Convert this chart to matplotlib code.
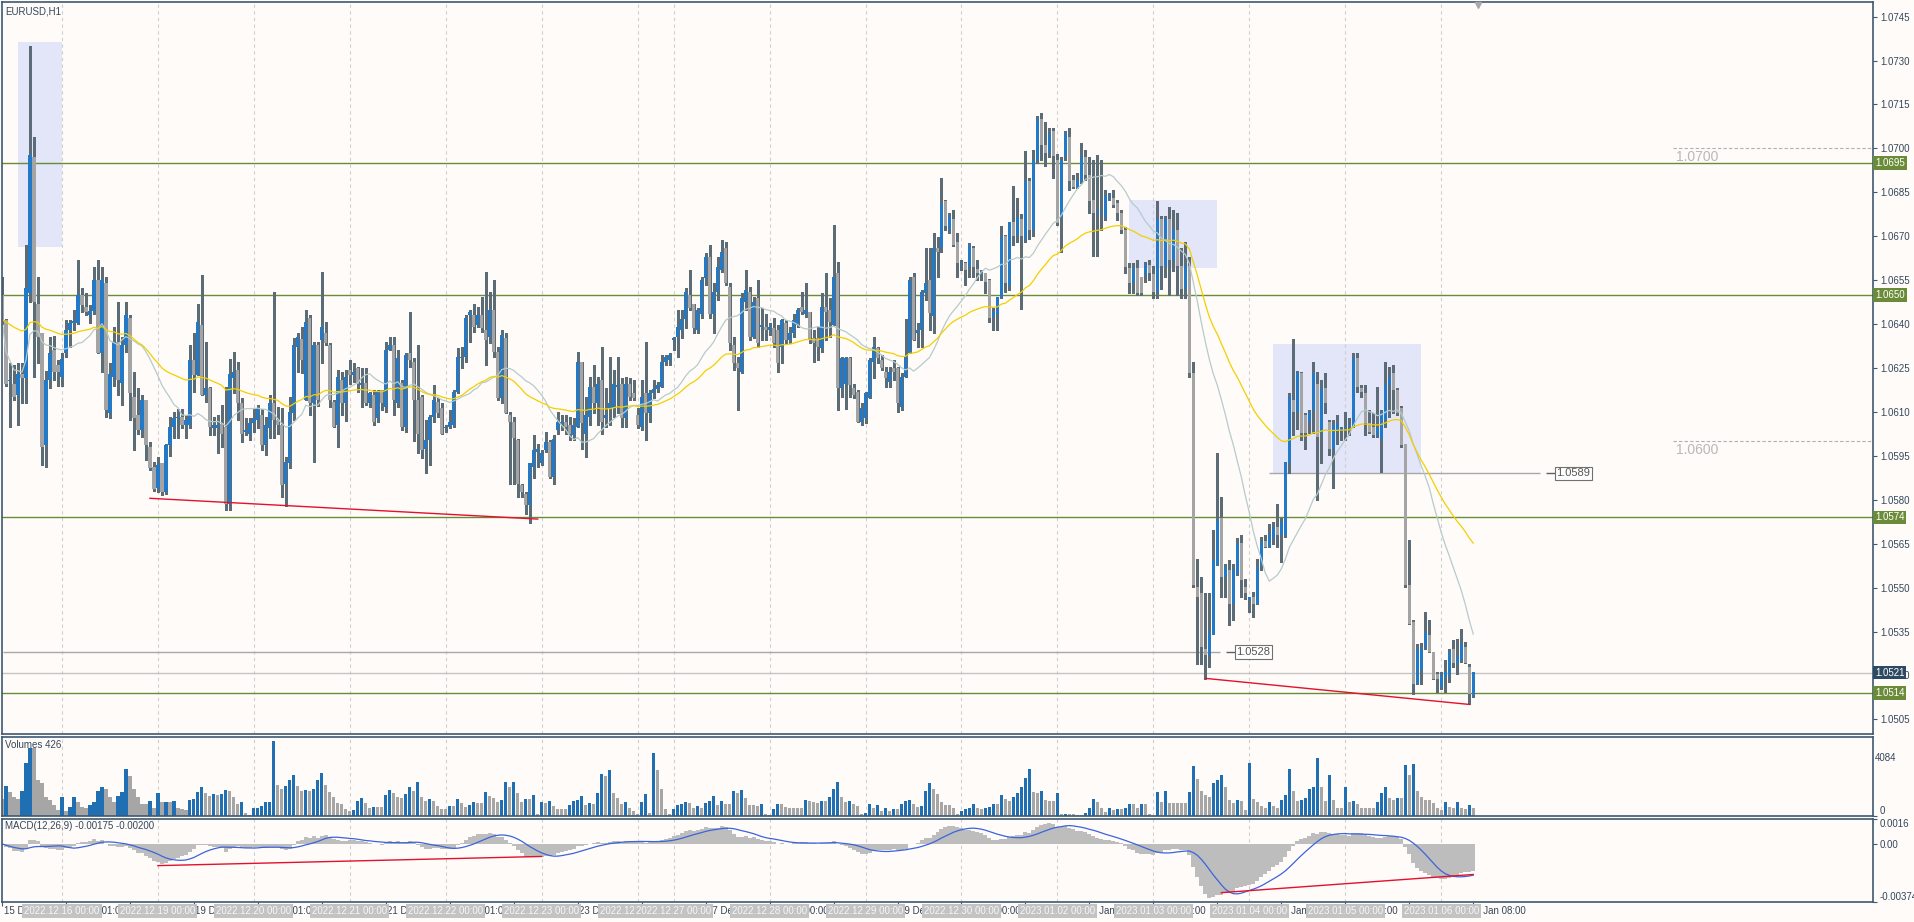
import numpy as np
import pandas as pd
import matplotlib
matplotlib.use('Agg')
import matplotlib.pyplot as plt
from matplotlib.patches import Rectangle
from matplotlib.transforms import blended_transform_factory as blend

# ---- data: EURUSD H1, prices in pips above 1.0500 ----
BASE = 1.05
opens = [150, 141.4, 120.5, 119.7, 115.7, 123, 121.5, 150.5, 197.2, 147,
         136.8, 98.7, 120.9, 131, 126, 122, 130, 138, 140.3, 140.5,
         149.9, 146, 143, 144.6, 155.1, 130, 154, 109.5, 122, 134,
         120, 132.8, 142, 115.2, 108.9, 103.8, 114.1, 98.1, 91.3, 84,
         92.4, 82.7, 98.7, 104.9, 107.8, 108.4, 105.5, 105.5, 127.7, 122.5,
         139.7, 115.7, 118, 104.4, 104.4, 106, 105, 78.7, 121.5, 124.3,
         112.9, 103.2, 102.6, 106.1, 107.2, 108.9, 98.7, 104.4, 113, 107.2,
         105.5, 85.5, 92.4, 109.5, 132.3, 134.9, 114, 142, 113, 133,
         134.6, 136.8, 132.8, 113.5, 105.5, 120.9, 112.9, 124.3, 122.6, 124.9,
         119.2, 119.8, 112.9, 115.7, 107.8, 117.5, 111.8, 131.1, 132.8, 112.9,
         120, 105, 130, 127.2, 114.1, 115.2, 97.5, 100.3, 108.4, 113.5,
         111.2, 104.4, 104.9, 105.5, 116.9, 128.3, 128.9, 143.1, 143.1, 139.7,
         143.1, 138, 135.7, 144.8, 130.6, 114.6, 135.1, 108.9, 106.6, 100.3,
         85, 82.1, 78.2, 91.3, 96.4, 92.4, 97, 99.8, 87.9, 103.8,
         106, 106.6, 105.5, 102, 105, 127.2, 102.6, 108.4, 118.6, 112.9,
         120.9, 108, 111.2, 111.2, 118.6, 119.7, 107.8, 119.7, 116.3, 108.9,
         105, 116.3, 109.5, 116.3, 117.9, 118.6, 127.2, 127.7, 134.6, 135.7,
         137.9, 141.9, 149.9, 147, 138, 143.6, 155.6, 163, 143.6, 151.1,
         158.5, 165.9, 152.8, 132.8, 126.6, 123.7, 147.6, 151.1, 135.7, 148.8,
         139.1, 139.1, 138, 138.5, 138, 132.3, 140.2, 134.6, 136.8, 139.7,
         145.9, 143.6, 144.2, 135.1, 135.1, 131.7, 145.9, 144.8, 139.7, 157.3,
         118, 119.7, 128.3, 118, 116.9, 106.6, 107.8, 114.6, 127.2, 131.7,
         127.7, 123.7, 120.3, 124.9, 124.9, 111.8, 122, 130, 156.2, 136.8,
         138, 150.5, 155, 142.8, 165.9, 165.9, 182.1, 172.4, 176, 168.1,
         160, 160.8, 159.6, 165.9, 158.7, 157.3, 157.4, 155, 142.5, 143.5,
         149.4, 170.1, 153, 175, 170, 176, 169, 189, 172, 196,
         210, 201, 198.5, 206, 196, 176.7, 197.2, 204, 189.3, 186.7,
         188.7, 197.2, 191, 182.4, 178.7, 177.6, 176.7, 183, 183, 181.3,
         177.9, 172.2, 159, 153.9, 159, 156.2, 156.8, 160.2, 157, 151,
         176, 160, 176, 162, 172, 160, 152, 160, 123.2, 50.3,
         48, 29.2, 27, 34, 57.6, 73.6, 53.7, 56, 44.5, 54.8,
         65.1, 50.3, 45.9, 46.8, 44.5, 57.6, 66, 64, 66.8, 70.7,
         67.9, 67.9, 92.4, 114, 110, 123.3, 108.9, 106.6, 110.6, 119.7,
         102.7, 118, 106.6, 97.5, 104, 103.8, 104.4, 104.9, 105, 128.3,
         118, 116.3, 106.1, 105, 102.1, 100.9, 107.2, 119.2, 123.2, 117.5,
         111.2, 99.2, 50.8, 38.3, 17.2, 22, 29.7, 33.7, 28, 20.6,
         16.1, 19.5, 20, 29.2, 24.1, 25.2, 29.7, 22.9, 13.2]
highs = [156, 141.6, 126.6, 126, 126.6, 126.6, 167, 235, 204, 156,
         137, 124, 135.7, 136, 127.7, 130, 141.4, 141.4, 144.8, 161.9,
         152.2, 150.5, 146.5, 159.6, 161.9, 159.6, 156, 126.6, 139, 147.6,
         135.7, 147.6, 143, 123.7, 118, 115.7, 114.1, 99.8, 93, 94.6,
         92.4, 99.2, 108.4, 110, 111, 111, 108.9, 132.8, 136.8, 147,
         156.8, 134, 118.6, 108.4, 109, 112.4, 118.6, 128, 130.6, 127.2,
         114.6, 107.8, 107.8, 111.5, 112.4, 111, 108.4, 115.7, 151, 111.8,
         111.2, 94.6, 115.2, 135.1, 136.8, 139.1, 144.8, 143.1, 134, 134,
         157.9, 140.8, 133.4, 114.1, 124.3, 123.7, 124.3, 127.7, 126.6, 125.4,
         124.9, 124.9, 116.9, 117.5, 117.5, 117.5, 134, 135.7, 135.7, 131.1,
         121, 130, 144.2, 128.3, 132.8, 115.7, 107.2, 108.9, 119.2, 114.6,
         112.9, 105.5, 110.6, 117.5, 131.7, 132.3, 143.1, 144.8, 147, 145.9,
         149.4, 157.9, 151.1, 155.1, 132.3, 138, 136.8, 110, 108.4, 100.9,
         85.5, 82.7, 92.4, 102, 99.2, 97, 103.2, 100.4, 102.1, 110,
         108.9, 108.9, 108.4, 107.8, 130.6, 127.2, 115.2, 122, 126, 122,
         132.3, 118, 128.9, 124.3, 128.9, 121.5, 122, 121.5, 120.9, 111.2,
         120.9, 134, 117.5, 120.9, 120.3, 129.4, 129.4, 130, 135.7, 144.8,
         144.8, 152.2, 158.5, 147, 145.4, 156.2, 164.2, 167, 153.9, 163,
         168.7, 168.1, 153.9, 135.7, 128.9, 150.5, 158.5, 152.8, 149.4, 155,
         145.4, 143.6, 140.2, 142, 139.7, 141.9, 141.4, 139.1, 143.6, 145.4,
         151.1, 153.9, 144.2, 138, 139.1, 150.5, 157.3, 148.8, 173.8, 161.3,
         128.9, 128.9, 128.9, 119.7, 117.5, 112.9, 116.9, 128.3, 135.7, 132.3,
         129.4, 125.4, 125.4, 127.7, 125.4, 123.2, 141.9, 156.2, 157.3, 140.2,
         151.7, 165.9, 165.9, 171, 169.9, 189.8, 182.4, 177.9, 179, 171,
         162, 161.3, 167.6, 166.5, 161.9, 158.5, 157.4, 155.3, 145.4, 149.4,
         173.5, 170.4, 175, 187, 183, 177.5, 199, 190, 199.5, 211,
         212, 209, 207, 207, 198, 197.2, 205.8, 206.9, 191, 191.5,
         201.8, 199.5, 197.2, 196.1, 197.8, 196.1, 185.8, 184.7, 185.8, 182.4,
         179, 173.3, 160.8, 160.8, 161.9, 156.2, 161.3, 162, 160, 182,
         177, 177, 180, 179, 178, 166, 168, 163, 127.1, 59.9,
         53.7, 48, 48, 69.6, 95.8, 81, 58.2, 59.3, 58.2, 66.8,
         67.9, 53.1, 46.8, 48.6, 59.9, 67.3, 67.9, 71.8, 72.4, 78.7,
         73.6, 93, 116.3, 135, 124, 123.5, 109.5, 110.6, 127.1, 123.7,
         120.9, 123.2, 107.2, 107.2, 109, 104.9, 110, 108, 130, 130,
         119.2, 119.2, 110.6, 109.5, 118.6, 110.6, 127.1, 125.4, 126, 118,
         112, 99.2, 66.2, 38.8, 30.9, 31, 41.7, 38.8, 28, 21.2,
         21.2, 25.2, 29.2, 32, 32.6, 36, 31.5, 24, 21.2]
lows = [140, 118.8, 105, 114, 105.5, 113, 113, 147.6, 122, 126.6,
        91.8, 91.3, 118, 120.9, 119, 119, 128.8, 132.3, 138, 140,
        144.2, 143, 140.3, 143.4, 130, 123.7, 108.4, 107.8, 119, 115.7,
        112.3, 130.6, 107.2, 97, 102.6, 101.5, 93.5, 90, 83, 82.7,
        81.6, 82, 95, 101, 101, 104.4, 101, 104.4, 116.9, 122.5,
        115.7, 113.5, 102, 102, 96, 98.1, 76.4, 76.4, 116.3, 107.2,
        99.8, 102, 100.3, 103, 104.4, 97, 95.2, 101, 101, 102.6,
        81, 78, 90.7, 107.2, 123.7, 123.2, 114, 108.9, 93, 112,
        126.6, 132.8, 111.8, 105, 98.1, 108.9, 107, 119.7, 120.3, 116.9,
        111.8, 112.4, 111.8, 105.5, 106.6, 110.6, 110, 131.1, 108.9, 111.8,
        103.8, 103.2, 125.4, 100, 95.8, 94.1, 89, 91.8, 106.6, 108.4,
        102.6, 103.2, 104.4, 104.9, 116.3, 124.9, 127.2, 134, 137.4, 139.1,
        137.4, 126, 133.4, 128.9, 114.1, 112.9, 109.5, 85.5, 85.5, 81,
        81, 75.3, 71.9, 87.3, 91.3, 91.8, 96.4, 87.3, 85.5, 102.6,
        103.8, 102.6, 100.4, 100.4, 105, 97.5, 94.7, 105.5, 109.5, 105.5,
        102.6, 105, 105.5, 108.4, 109.5, 104.9, 104.9, 114, 114, 104.4,
        103.8, 100.4, 106.6, 114.6, 116.9, 118.6, 126, 126, 131.1, 128.9,
        135.1, 138.5, 144.8, 136.8, 136.8, 142, 153.4, 142, 136.8, 148.2,
        157.9, 153.4, 131.1, 124.3, 110.6, 123.2, 144.8, 134.6, 135.1, 132.3,
        134.6, 134.6, 136.3, 132.3, 123.7, 126.6, 133.4, 133.4, 135.7, 139.1,
        143.6, 142.5, 133.4, 127.2, 127.7, 130.6, 134.6, 135.7, 139.7, 110.6,
        115.2, 111, 115.2, 114.6, 106.6, 105.5, 106.1, 114.6, 121.5, 126.6,
        124.3, 118.6, 118.6, 120.9, 110, 110.6, 122, 130, 134.6, 132.3,
        132.3, 148.2, 138, 136.8, 156.2, 164.7, 172.2, 171, 166.5, 156.2,
        158.5, 153.4, 156.2, 156.2, 155, 155, 150.5, 140.8, 138, 138,
        148.8, 150.8, 151.7, 167, 168, 145, 168, 169, 170, 195,
        196, 194, 197, 190, 174, 164.7, 196.1, 185.8, 186.4, 186.4,
        188.1, 189.3, 177.9, 163.1, 163.1, 172.2, 175.6, 182.4, 180.1, 175.6,
        171, 157.4, 150.5, 150.5, 150, 150, 154.5, 155, 149, 149,
        152, 156, 150, 158, 150, 149, 149, 122, 50.3, 24,
        24, 18.9, 23, 34, 57.6, 46.8, 46.8, 37.1, 38.8, 54.3,
        46.8, 46.2, 41.7, 40, 44.5, 56, 63.9, 63.9, 65, 63.9,
        58.8, 67.3, 89, 102, 104, 100.4, 97.5, 102.7, 102.7, 79.9,
        92.4, 109.5, 95.2, 83.9, 99.2, 100.4, 100.4, 102, 105, 116.9,
        115.2, 102.1, 102.7, 101.5, 101.5, 89.6, 105, 108.4, 109.5, 108.9,
        98, 50.3, 37.7, 13.8, 17, 17.2, 29.2, 28, 18.9, 14.4,
        15.5, 14.4, 17.8, 23, 20.6, 24.6, 24.1, 10.3, 12.6]
closes = [141.5, 119.7, 121, 115.2, 123, 121.5, 152.2, 197.8, 147.6, 135.7,
          98.1, 120.9, 130, 123.7, 123.7, 128, 138, 140.3, 141, 149.9,
          146.5, 144.2, 144.6, 155.1, 130, 155.1, 110.6, 123, 134, 120.9,
          132.8, 143, 116.3, 107.8, 103.8, 114.1, 98.7, 90.7, 83.8, 92,
          82.7, 98.7, 104.9, 107.8, 108.4, 105.5, 107.2, 127.7, 122.5, 140.8,
          115.7, 118, 104.9, 105.5, 105.5, 102.6, 78.7, 123, 123.7, 112.9,
          102.6, 103.8, 106.1, 107.8, 111.2, 98.7, 105.5, 113, 107.2, 105.5,
          85, 93, 110, 132.8, 135.7, 127.7, 140.8, 112.9, 133, 114,
          139.1, 133.4, 114.1, 105, 122, 112.9, 122, 122.6, 123.7, 119.7,
          119.8, 112.9, 116.3, 106.6, 116.9, 112.9, 131.1, 132.8, 114.1, 128.3,
          105, 129.4, 127.7, 114.1, 102.6, 97, 100.3, 108.4, 114.1, 109.5,
          102.6, 104.9, 106.6, 116.9, 128.9, 128.9, 142, 144.2, 139.1, 143.1,
          138.5, 134.6, 144.8, 130.6, 114.6, 136.3, 109.5, 106.6, 101, 85.5,
          82.7, 78.2, 92.4, 97, 97.5, 95.8, 99.8, 87.9, 100.9, 106.6,
          106.6, 104.9, 102.6, 105.5, 127.2, 106.1, 109, 118.6, 112.9, 119.7,
          106.6, 109, 113, 119.7, 119.2, 107.8, 119.7, 115.2, 114.6, 105.5,
          115.2, 109.5, 116.3, 117.9, 119.2, 127.2, 128.9, 129.4, 135.1, 139.1,
          141.9, 151.1, 145.4, 138.5, 144.8, 155, 163, 143.6, 151.1, 159.6,
          164.7, 153.9, 133.4, 126.6, 124.9, 148.8, 151.6, 135.7, 147.6, 133.4,
          139.7, 138, 139.1, 133.4, 126.6, 141.4, 134.6, 136.8, 141.4, 144.8,
          144.2, 144.8, 134.6, 133.4, 132.3, 145.9, 144.2, 140.8, 156.2, 118,
          128.3, 128.3, 119.2, 115.7, 106.6, 111.2, 116.3, 127.7, 132.3, 128.3,
          124.9, 121.5, 123.7, 123.7, 112.9, 122, 128.9, 155, 134.6, 137.9,
          151.1, 153.9, 143.7, 165.9, 164.7, 181, 173.5, 176.9, 166.9, 160.8,
          160.2, 158.5, 167, 159.6, 157.6, 158.1, 154.5, 142, 144.2, 149.4,
          169.9, 154, 174.7, 170, 176.5, 170, 189, 172, 196, 210,
          201, 198.5, 205, 197.5, 174.5, 196.1, 205.2, 188.7, 186.7, 189.3,
          197.2, 191, 181.9, 177.9, 179.2, 178.2, 183.6, 184.1, 180.7, 177.9,
          172.2, 159.6, 153.9, 159, 150.5, 150.5, 160.2, 157.3, 151, 176,
          160, 176, 162, 172, 160, 152, 160, 123.2, 50.8, 46.8,
          29.7, 26.9, 35, 59.3, 73, 53.7, 57, 44.5, 56, 65.1,
          52.5, 48, 46.8, 44.5, 57.1, 65.6, 63.9, 67.9, 70.7, 67.9,
          72.4, 93, 115.2, 110, 123.3, 102.7, 102.7, 110, 123.2, 101.5,
          118, 112.9, 97.5, 105.5, 106.1, 104.4, 104.9, 105.5, 128.3, 118.6,
          116.9, 106.1, 103.2, 102.1, 104.4, 110, 119.2, 122, 117.5, 109.5,
          98.7, 50.8, 37.7, 17.2, 29.2, 29.2, 34.9, 28, 18.9, 18.9,
          20, 21.2, 28, 24.1, 26.3, 30.9, 24.1, 13.8, 21.2]
volumes = [920, 1656, 1325, 1012, 920, 1343, 2907, 3717, 3700, 1969,
           1803, 1049, 865, 607, 313, 1012, 276, 497, 1012, 736,
           497, 423, 607, 736, 1380, 1601, 1472, 1012, 773, 1104,
           1288, 2539, 2153, 1472, 1049, 644, 644, 828, 423, 1233,
           736, 773, 736, 791, 423, 368, 313, 865, 920, 1288,
           1601, 1233, 1104, 1196, 1159, 1180, 1435, 1380, 1049, 644,
           736, 184, 55, 423, 430, 552, 736, 740, 4084, 1711,
           1472, 1656, 1969, 2208, 1650, 1380, 1417, 1370, 1472, 1969,
           2337, 1711, 1288, 1049, 681, 675, 368, 276, 313, 791,
           975, 681, 423, 497, 490, 485, 1159, 1417, 1233, 1012,
           1005, 1196, 1601, 1380, 1840, 1012, 828, 920, 820, 552,
           368, 360, 552, 545, 920, 681, 497, 607, 736, 730,
           681, 1288, 1104, 975, 736, 865, 1840, 1564, 1845, 1233,
           736, 920, 915, 1159, 129, 736, 681, 828, 552, 368,
           365, 360, 607, 828, 865, 1104, 607, 681, 644, 1233,
           2263, 2153, 2521, 1233, 975, 644, 773, 423, 276, 129,
           773, 1196, 184, 3404, 2521, 1472, 368, 129, 368, 607,
           644, 736, 730, 423, 552, 423, 681, 791, 1104, 607,
           791, 644, 640, 1380, 1233, 1417, 975, 607, 600, 552,
           644, 92, 37, 368, 644, 640, 497, 423, 420, 415,
           410, 865, 828, 736, 730, 828, 791, 1012, 1472, 1877,
           1012, 736, 828, 644, 552, 92, 184, 644, 423, 607,
           276, 423, 270, 368, 365, 644, 828, 865, 644, 497,
           552, 1343, 1785, 1472, 1196, 736, 607, 600, 423, 129,
           276, 368, 423, 644, 420, 368, 415, 497, 644, 640,
           1159, 920, 828, 1049, 1233, 1564, 2061, 2576, 1325, 1233,
           1380, 865, 828, 791, 1233, 92, 129, 90, 88, 55,
           52, 184, 423, 920, 736, 423, 239, 420, 313, 368,
           365, 423, 644, 640, 423, 644, 640, 129, 20, 1325,
           736, 1343, 730, 725, 720, 715, 710, 1288, 2723, 1987,
           1380, 1159, 1049, 1785, 1969, 2208, 1601, 865, 681, 860,
           828, 313, 2889, 920, 736, 552, 423, 736, 545, 420,
           865, 1159, 2576, 1380, 828, 865, 975, 1472, 1564, 3183,
           1560, 828, 2208, 883, 423, 420, 1601, 736, 791, 644,
           423, 420, 415, 410, 736, 1233, 1601, 975, 865, 970,
           965, 2760, 2208, 2815, 1343, 1012, 865, 860, 681, 423,
           313, 736, 497, 423, 736, 420, 368, 607, 426]

# trading days shown: date, first hour, number of H1 bars
day_dates = ['2022-12-15', '2022-12-16', '2022-12-19', '2022-12-20', '2022-12-21',
             '2022-12-22', '2022-12-23', '2022-12-26', '2022-12-27', '2022-12-28',
             '2022-12-29', '2022-12-30', '2023-01-02', '2023-01-03', '2023-01-04',
             '2023-01-05', '2023-01-06']
day_first_hour = [9, 0, 0, 0, 0, 0, 0, 15, 0, 0, 0, 0, 0, 0, 0, 0, 0]
day_bars = [15, 24, 24, 24, 24, 24, 24, 9, 24, 24, 24, 24, 24, 24, 24, 24, 9]

price_ticks = ['1.0505', '1.0520', '1.0535', '1.0550', '1.0565', '1.0580', '1.0595',
               '1.0610', '1.0625', '1.0640', '1.0655', '1.0670', '1.0685', '1.0700',
               '1.0715', '1.0730', '1.0745']
green_levels = [1.0695, 1.0650, 1.0574, 1.0514]
round_levels = [1.0700, 1.0600, 1.0500]
last_price = 1.0521
# (first bar, last bar, top, bottom)
zones = [(4, 15, 1.07364, 1.06663), (282, 304, 1.06824, 1.06591), (318, 355, 1.06332, 1.05891)]
# price label objects: (price, line start bar, line end bar)
price_marks = [(1.0528, 0.25, 304.75), (1.0589, 317, 384.75)]
price_trend = [((37, 1.05805), (134, 1.05734)), ((301, 1.05190), (367, 1.05101))]
macd_trend = [((39, -0.00140), (135, -0.00081)), ((305, -0.00314), (368, -0.00197))]
vol_max_label = '4084'
macd_scale = [0.0016, 0.0, -0.00374]

# ---- style ----
W, H = 1915, 922
BG = '#fffbf9'
FRAME = '#3d5872'
TXT = '#33475b'
BLUE = '#2279c8'
GREY = '#a4a4a4'
WICK = '#5c6c76'
GREEN = '#6a8c38'
SEP = '#cfcfcf'
RED = '#e3102e'
ROUND_START = 418

plt.rcParams['font.family'] = ['Liberation Sans', 'DejaVu Sans']
plt.rcParams['font.size'] = 7


def box(x0, y0, x1, y1):
    return [x0 / W, 1 - y1 / H, (x1 - x0) / W, (y1 - y0) / H]


o = BASE + np.array(opens) / 1e4
h = BASE + np.array(highs) / 1e4
l = BASE + np.array(lows) / 1e4
c = BASE + np.array(closes) / 1e4
vol = np.array(volumes)
n = len(c)
x = np.arange(n)

stamps = []
for d, h0, cnt in zip(day_dates, day_first_hour, day_bars):
    t0 = pd.Timestamp(d) + pd.Timedelta(hours=h0)
    stamps += [t0 + pd.Timedelta(hours=k) for k in range(cnt)]
day_start = np.cumsum([0] + day_bars[:-1])[1:]

fig = plt.figure(figsize=(W / 100, H / 100), dpi=100, facecolor=BG)
ax = fig.add_axes(box(2, 2, 1873, 734), facecolor=BG)
axv = fig.add_axes(box(2, 737, 1873, 816), facecolor=BG, sharex=ax)
axm = fig.add_axes(box(2, 819, 1873, 902), facecolor=BG, sharex=ax)

for a in (ax, axv, axm):
    for s in a.spines.values():
        s.set_color(FRAME)
        s.set_linewidth(1.2)
    a.yaxis.tick_right()
    a.tick_params(axis='y', direction='out', length=3, width=0.8, colors=FRAME,
                  labelcolor=TXT, pad=2, labelsize=7)
    a.tick_params(axis='x', bottom=False, labelbottom=False)
    for s in day_start:
        a.axvline(s, color=SEP, lw=0.8, ls=(0, (3, 3)), zorder=0.8)
ax.set_xlim(0.25, 468)

# ---- price panel ----
ax.set_ylim(1.0500, 1.0750)
ax.set_yticks([float(t) for t in price_ticks])
ax.set_yticklabels(price_ticks)

for b0, b1, top, bot in zones:
    ax.add_patch(Rectangle((b0, bot), b1 - b0, top - bot, fc='#e3e5f8', ec='none', zorder=0.5))

for lv in green_levels:
    ax.axhline(lv, color=GREEN, lw=1.0, zorder=1)
    ax.text(1.0012, lv, f'{lv:.4f}', transform=blend(ax.transAxes, ax.transData),
            ha='left', va='center', color='white', fontsize=7, clip_on=False, zorder=6,
            bbox=dict(boxstyle='square,pad=0.18', fc=GREEN, ec='none'))
ax.axhline(last_price, color='#c4c4c4', lw=1.0, zorder=1)
ax.text(1.0012, last_price, f'{last_price:.4f}', transform=blend(ax.transAxes, ax.transData),
        ha='left', va='center', color='white', fontsize=7, clip_on=False, zorder=6,
        bbox=dict(boxstyle='square,pad=0.18', fc='#2e4a63', ec='none'))

for lv in round_levels:
    ax.hlines(lv, ROUND_START, 468, color='#b0b0b0', lw=0.8, ls=(0, (3, 2)), zorder=1)
    if lv > 1.0500:
        ax.text(ROUND_START + 0.6, lv - 0.00007, f'{lv:.4f}', color='#b8b8b8',
                fontsize=10, ha='left', va='top')

for pr, b0, b1 in price_marks:
    ax.hlines(pr, b0, b1, color='#a8a8a8', lw=1.0, zorder=1)
    ax.hlines(pr, b1 + 1.5, b1 + 3.8, color='#606060', lw=1.0, zorder=1)
    ax.text(b1 + 4.0, pr, f'{pr:.4f}', color='#555555', fontsize=8, ha='left', va='center',
            zorder=6, bbox=dict(boxstyle='square,pad=0.15', fc='white', ec='#707070', lw=0.8))

for (x0, y0), (x1, y1) in price_trend:
    ax.plot([x0, x1], [y0, y1], color=RED, lw=1.0, zorder=3)

up = c > o
ax.vlines(x, np.minimum(l, np.minimum(o, c)), np.maximum(h, np.maximum(o, c)),
          color=WICK, lw=0.8, zorder=2, antialiased=False)
ax.bar(x, np.maximum(np.abs(c - o), 0.00003), bottom=np.minimum(o, c), width=0.8,
       color=np.where(up, BLUE, GREY), lw=0, zorder=2.2, antialiased=False)

cs = pd.Series(c)
ax.plot(x, cs.rolling(20, min_periods=1).mean(), color='#b6cbcb', lw=0.9, zorder=2.5)
ax.plot(x, cs.ewm(span=50, adjust=False).mean(), color='#f3cf00', lw=0.9, zorder=2.5)

ax.text(0.0018, 0.994, 'EURUSD,H1', transform=ax.transAxes, ha='left', va='top', color=TXT)
ax.plot([n + 0.25], [1.0749], marker='v', ms=5, color='#a8a8a8', clip_on=False, zorder=6)

# ---- volumes ----
vcol = np.where(np.r_[False, vol[1:] > vol[:-1]], '#1f6fb2', '#a6a6a6')
axv.bar(x, vol, width=0.8, color=vcol, lw=0, antialiased=False, zorder=2)
axv.set_ylim(0, 4300)
axv.set_yticks([0])
axv.set_yticklabels(['0'])
axv.get_yticklabels()[0].set_va('bottom')
axv.text(1.0012, 0.73, vol_max_label, transform=axv.transAxes, ha='left', va='center',
         color=TXT, clip_on=False)
axv.text(0.0018, 0.96, f'Volumes {volumes[-1]}', transform=axv.transAxes,
         ha='left', va='top', color=TXT)

# ---- MACD(12,26,9) ----
macd = cs.ewm(span=12, adjust=False).mean() - cs.ewm(span=26, adjust=False).mean()
signal = macd.rolling(9, min_periods=1).mean()
axm.bar(x, macd, width=1.0, color='#bdbdbd', lw=0, antialiased=False, zorder=1)
axm.plot(x, signal, color='#3b64dc', lw=0.9, zorder=2)
for (x0, y0), (x1, y1) in macd_trend:
    axm.plot([x0, x1], [y0, y1], color=RED, lw=1.0, zorder=3)
axm.set_ylim(macd_scale[2], macd_scale[0])
axm.set_yticks(macd_scale)
axm.set_yticklabels(['0.0016', '0.00', '-0.00374'])
axm.get_yticklabels()[0].set_va('top')
axm.get_yticklabels()[2].set_va('bottom')
axm.text(0.0018, 0.97, 'MACD(12,26,9) -0.00175 -0.00200', transform=axm.transAxes,
         ha='left', va='top', color=TXT)

# ---- time axis ----
tick_idx = x[::16]
axm.set_xticks(tick_idx)
axm.tick_params(axis='x', bottom=True, direction='out', length=3, width=0.8, colors=FRAME)
tb = blend(axm.transData, axm.transAxes)
for k in tick_idx:
    t = stamps[k]
    lab = f'{t.day} {t:%b %Y}' if k == 0 else f'{t.day} {t:%b %H:%M}'
    axm.text(k + 0.4, -0.05, lab, transform=tb, ha='left', va='top', color=TXT, clip_on=False)
for s in day_start:
    axm.text(s, -0.05, f'{stamps[s]:%Y.%m.%d} 00:00', transform=tb, ha='center', va='top',
             color='#f7f7f7', clip_on=False, zorder=6,
             bbox=dict(boxstyle='square,pad=0.2', fc='#c3c3c3', ec='none'))

fig.savefig('out.png', dpi=100, facecolor=BG)
